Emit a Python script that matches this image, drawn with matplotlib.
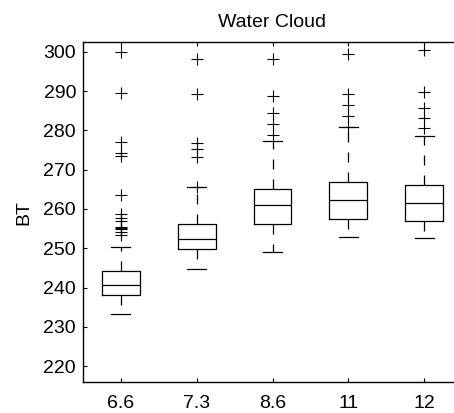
import matplotlib
matplotlib.use("Agg")
import matplotlib.pyplot as plt

plt.rcParams['font.family'] = ['Liberation Sans', 'DejaVu Sans']

categories = ["6.6", "7.3", "8.6", "11", "12"]
q1 = [238.0, 249.8, 256.3, 257.5, 257.0]
medians = [240.7, 252.3, 261.0, 262.2, 261.5]
q3 = [244.1, 256.1, 265.2, 266.9, 266.0]
whislo = [233.2, 244.6, 249.1, 252.8, 252.7]
whishi = [250.3, 265.5, 277.3, 280.8, 278.5]
fliers = [
    [300.0, 289.6, 277.0, 274.2, 273.5, 263.6, 258.8, 257.8, 256.9,
     255.5, 255.1, 254.8, 254.2, 253.5],
    [298.1, 289.2, 276.8, 275.2, 273.3, 265.5],
    [298.1, 288.8, 284.3, 281.6, 278.7],
    [299.3, 289.2, 286.5, 283.6, 280.9],
    [300.5, 289.7, 285.8, 283.2, 280.5],
]
title = "Water Cloud"
ylabel = "BT"
yticks = [220, 230, 240, 250, 260, 270, 280, 290, 300]

stats = []
for i in range(len(categories)):
    stats.append(dict(label=categories[i], q1=q1[i], med=medians[i], q3=q3[i],
                      whislo=whislo[i], whishi=whishi[i], fliers=fliers[i]))

fig = plt.figure(figsize=(4.54, 4.13), dpi=100)
ax = fig.add_axes([83/454, 1-382.3/413, (462-83)/454, (382.3-42.3)/413])

lw = 0.9
ax.bxp(stats, positions=range(1, len(categories)+1), widths=0.5,
       boxprops=dict(color='black', linewidth=lw),
       medianprops=dict(color='black', linewidth=lw),
       whiskerprops=dict(color='black', linewidth=lw, linestyle=(0, (8, 8))),
       capprops=dict(color='black', linewidth=lw),
       flierprops=dict(marker='+', markersize=8.5, markeredgecolor='black',
                       markeredgewidth=0.8, linestyle='none'))

ax.set_xlim(0.5, 5.5)
ax.set_ylim(215.9, 302.4)
ax.set_yticks(yticks)
ax.set_xticks(range(1, len(categories)+1))
ax.set_xticklabels(categories)
ax.tick_params(direction='in', length=3, width=0.8, labelsize=14,
               top=True, right=True, pad=5)
ax.tick_params(axis='x', pad=9)
for s in ax.spines.values():
    s.set_linewidth(1.0)
ax.set_title(title, fontsize=14, pad=11)
ax.set_ylabel(ylabel, fontsize=14, labelpad=8)

fig.savefig("out.png", dpi=100)
